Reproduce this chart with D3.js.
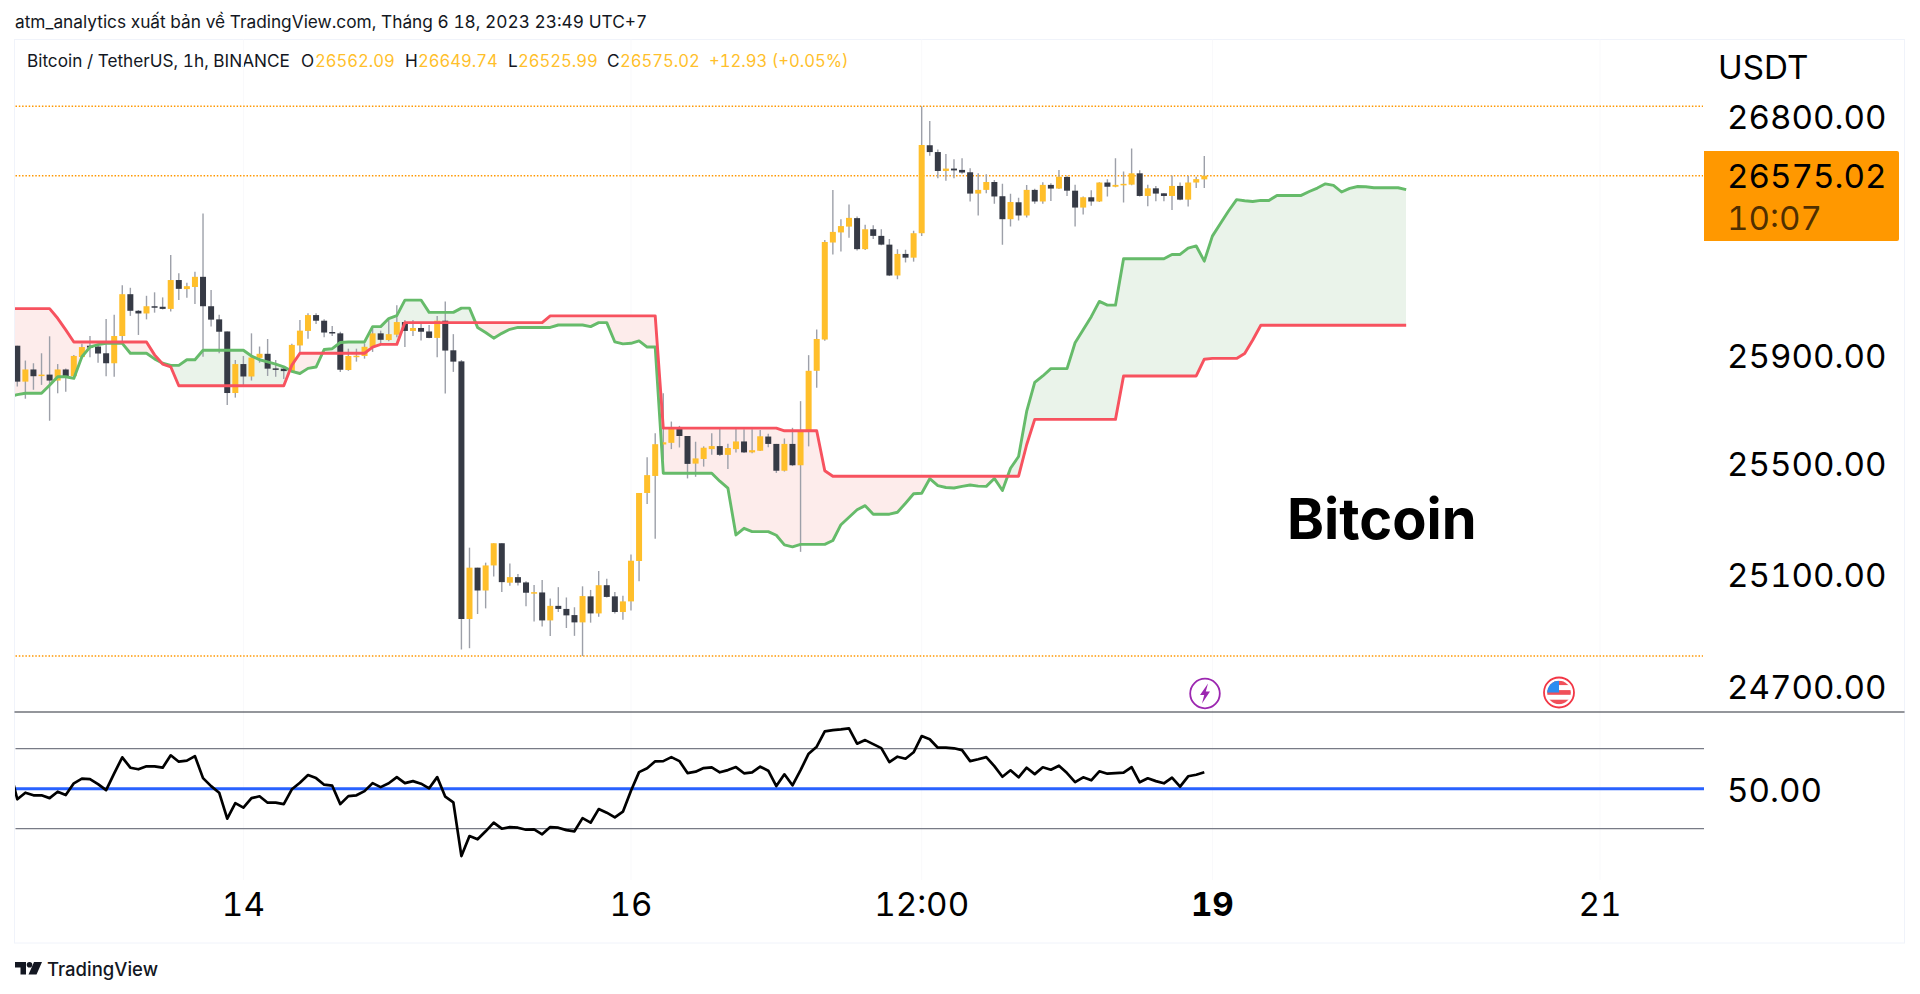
<!DOCTYPE html>
<html>
<head>
<meta charset="utf-8">
<script src="https://cdnjs.cloudflare.com/ajax/libs/d3/7.8.5/d3.min.js"></script>
<style>
  html, body { margin: 0; padding: 0; background: #fff; }
  svg { display: block; font-family: Inter, "Liberation Sans", sans-serif; font-variant-numeric: tabular-nums; }
</style>
</head>
<body>
<div id="chart"></div>
<script>
const opens = [25933,25800,25845,25821,25826,25804,25845,25820,25891,25933,25930,25905,25868,25969,26125,26063,26053,26080,26078,26070,26178,26144,26152,26190,26080,26031,25986,25758,25865,25819,25888,25903,25849,25848,25838,25934,25988,26047,26026,25984,25979,25843,25891,25895,25928,25979,25954,25974,26021,25988,25999,25986,25962,26026,25916,25875,24938,25122,25040,25130,25210,25068,25088,25069,25031,25033,24933,24985,24974,24952,24926,25019,24958,25059,25019,24963,25001,25146,25392,25454,25569,25575,25630,25600,25499,25516,25552,25563,25531,25552,25580,25540,25546,25598,25571,25473,25571,25493,25615,25840,25956,26319,26357,26379,26411,26294,26369,26344,26311,26195,26276,26262,26354,26688,26662,26590,26599,26594,26585,26504,26518,26548,26494,26407,26471,26421,26518,26474,26537,26523,26567,26515,26451,26490,26474,26546,26530,26537,26538,26581,26495,26524,26505,26495,26533,26481,26546,26558];
const highs = [25933,25878,25868,25905,25968,25865,25849,25899,25940,25969,25940,26032,26048,26158,26149,26066,26119,26132,26113,26272,26203,26168,26209,26429,26141,26048,25986,25880,25895,25979,25930,25958,25880,25855,25940,26029,26054,26054,26031,26006,25985,25922,25922,25942,25998,25989,26029,26084,26029,26029,26019,26010,26044,26098,25976,25880,25194,25122,25140,25210,25210,25137,25099,25073,25060,25078,25011,25052,25015,24980,25055,25042,25110,25082,25035,25021,25169,25392,25522,25610,25757,25653,25637,25600,25579,25562,25610,25630,25572,25630,25625,25625,25622,25608,25571,25591,25630,25728,25898,25993,26328,26518,26407,26463,26417,26386,26384,26369,26332,26294,26292,26363,26837,26781,26672,26655,26635,26638,26600,26581,26577,26556,26541,26503,26488,26537,26522,26547,26543,26594,26572,26538,26493,26517,26547,26558,26638,26588,26676,26593,26538,26533,26505,26573,26546,26571,26568,26647];
const lows = [25782,25737,25770,25788,25656,25757,25763,25817,25886,25890,25870,25820,25818,25942,26044,25973,26031,26056,26068,26060,26103,26112,26088,25892,26004,25905,25714,25741,25782,25804,25870,25821,25818,25810,25835,25908,25959,26014,25964,25969,25836,25840,25874,25885,25910,25942,25950,25964,25928,25969,25952,25961,25890,25756,25836,24829,24834,24956,24976,25090,25035,25057,25058,24984,24929,24911,24877,24963,24906,24878,24806,24925,24946,25015,24958,24935,24968,25073,25352,25226,25513,25552,25558,25445,25451,25488,25531,25527,25479,25540,25538,25537,25545,25559,25465,25470,25490,25179,25562,25777,25951,26274,26285,26337,26289,26291,26332,26309,26193,26181,26244,26247,26344,26648,26562,26553,26562,26579,26474,26421,26505,26465,26311,26379,26402,26413,26465,26465,26476,26521,26495,26379,26425,26458,26472,26493,26528,26470,26536,26493,26456,26475,26475,26442,26479,26455,26525,26525];
const closes = [25800,25845,25820,25826,25804,25845,25820,25895,25928,25926,25904,25868,25969,26125,26063,26053,26080,26077,26070,26178,26145,26155,26190,26080,26030,25985,25758,25865,25819,25889,25903,25848,25844,25839,25936,25989,26047,26026,25982,25979,25844,25895,25896,25929,25979,25955,25976,26021,25988,25999,25985,25962,26026,25915,25874,24938,25122,25040,25130,25210,25070,25088,25068,25032,25034,24933,24985,24974,24951,24926,25020,24958,25059,25017,24963,25001,25147,25392,25457,25570,25577,25630,25600,25498,25518,25557,25563,25531,25556,25580,25540,25548,25599,25571,25473,25571,25493,25617,25840,25958,26321,26359,26381,26412,26294,26369,26344,26311,26195,26276,26262,26354,26689,26662,26590,26599,26592,26584,26504,26518,26548,26493,26407,26472,26421,26518,26474,26537,26523,26568,26515,26451,26490,26474,26546,26530,26537,26541,26581,26495,26524,26504,26495,26533,26481,26546,26559,26572];

// cloud lines and rsi start one bar before the first candle (cut off by the pane edge)
const leadA = [25745,25752,25757,25757,25757,25787,25818,25818,25812,25892,25928,25937,25942,25942,25942,25905,25905,25905,25884,25868,25860,25860,25881,25881,25916,25916,25916,25916,25916,25916,25895,25881,25873,25865,25855,25838,25830,25849,25854,25919,25922,25945,25947,25947,25947,26004,26004,26034,26045,26103,26103,26103,26057,26057,26057,26057,26073,26073,26001,25982,25961,25979,25994,26001,26001,26001,26001,26001,26010,26010,26010,26010,26004,26019,26019,25947,25940,25942,25951,25928,25928,25464,25464,25464,25464,25464,25464,25464,25435,25410,25240,25264,25252,25252,25252,25239,25204,25197,25206,25206,25206,25206,25220,25277,25304,25331,25346,25315,25315,25315,25322,25355,25389,25391,25444,25419,25412,25410,25416,25421,25417,25416,25445,25401,25482,25525,25690,25797,25821,25848,25848,25848,25944,25992,26041,26098,26084,26084,26258,26258,26258,26258,26258,26258,26274,26274,26298,26306,26249,26343,26391,26438,26481,26477,26474,26478,26478,26497,26497,26497,26497,26512,26525,26541,26535,26510,26524,26531,26530,26526,26526,26526,26526,26519];
const leadB = [26071,26071,26071,26071,26071,26071,26035,25992,25947,25947,25947,25947,25947,25947,25947,25947,25947,25947,25899,25865,25855,25785,25785,25785,25785,25785,25785,25785,25785,25785,25785,25785,25785,25785,25785,25861,25905,25905,25905,25905,25905,25905,25905,25905,25905,25928,25938,25938,25938,26019,26019,26019,26019,26019,26019,26019,26019,26019,26019,26019,26019,26019,26019,26019,26019,26019,26019,26044,26044,26044,26044,26044,26044,26044,26044,26044,26044,26044,26044,26044,26044,25629,25629,25629,25629,25629,25629,25629,25629,25629,25629,25629,25629,25629,25629,25629,25619,25619,25619,25619,25619,25473,25453,25453,25453,25453,25453,25453,25453,25453,25453,25453,25453,25453,25453,25453,25453,25453,25453,25453,25453,25453,25453,25453,25453,25453,25568,25661,25661,25661,25661,25661,25661,25661,25661,25661,25661,25661,25821,25821,25821,25821,25821,25821,25821,25821,25821,25821,25883,25886,25886,25886,25886,25904,25954,26009,26009,26009,26009,26009,26009,26009,26009,26009,26009,26009,26009,26009,26009,26009,26009,26009,26009,26009,26009];
const rsi = [61.0,44.7,48.0,46.7,46.7,45.3,48.5,46.8,52.7,55.0,54.8,52.3,49.3,57.7,65.7,60.5,59.7,61.2,61.2,60.5,66.7,63.5,64.0,66.3,55.3,51.3,48.0,35.0,42.8,40.5,45.3,46.2,43.0,43.0,42.3,49.7,53.0,56.8,55.3,52.0,51.5,42.3,46.3,46.7,48.8,52.8,50.8,52.7,55.8,52.8,53.8,52.5,50.2,55.8,46.0,43.2,16.3,26.3,24.7,28.7,33.0,30.0,30.8,30.5,29.5,29.7,27.2,30.8,30.5,29.3,28.7,35.3,33.0,39.8,38.0,35.7,38.5,49.0,58.3,60.2,63.7,63.8,65.8,63.8,57.8,58.5,60.3,60.7,58.2,59.3,60.8,57.7,58.2,61.0,59.0,51.3,57.2,51.7,59.3,67.5,71.0,78.7,79.3,79.7,80.2,72.5,74.3,72.3,70.3,63.3,66.0,65.0,68.2,76.3,74.7,70.5,70.5,70.2,69.3,63.8,64.7,65.8,61.3,56.0,59.2,55.7,60.5,57.3,60.7,59.5,61.5,57.8,53.3,55.7,54.2,58.7,57.5,57.8,58.0,60.8,53.2,55.2,53.8,52.7,55.5,51.0,56.2,57.0,58.2];

const priceTicks = [26800, 25900, 25500, 25100, 24700];
const priceLevels = [26837, 26572, 24806];
const rsiBands = [70, 30];
const rsiMid = 50;
const timeTicks = [
  { i: 28, label: '14' },
  { i: 76, label: '16' },
  { i: 112, label: '12:00' },
  { i: 148, label: '19', bold: true },
  { i: 196, label: '21' },
];
const publishLine = 'atm_analytics xuất bản về TradingView.com, Tháng 6 18, 2023 23:49 UTC+7';
const legendName = 'Bitcoin / TetherUS, 1h, BINANCE';
const legendValues = [['O', '26562.09'], ['H', '26649.74'], ['L', '26525.99'], ['C', '26575.02']];
const legendChange = '+12.93 (+0.05%)';

const width = 1920;
const height = 994;
const paneLeft = 14.5;
const paneRight = 1704;
const frameRight = 1904.5;
const frameTop = 39.5;
const frameBottom = 943;
const sepY = 712;

const upColor = '#FFBF2B';
const downColor = '#363A45';
const wickColor = '#9DA0A9';
const labelColor = '#000';

const x = d3.scaleLinear().domain([0, 147]).range([17.3, 1204.3]);
const y = d3.scaleLog().domain([24700, 26800]).range([686, 116]);
const yRsi = d3.scaleLinear().domain([30, 70]).range([828.7, 748.7]);

const svg = d3.select('#chart').append('svg')
  .attr('width', width)
  .attr('height', height);

const defs = svg.append('defs');
defs.append('clipPath').attr('id', 'mainClip').append('rect')
  .attr('x', paneLeft + 0.5).attr('y', frameTop)
  .attr('width', paneRight - paneLeft).attr('height', sepY - frameTop);
defs.append('clipPath').attr('id', 'rsiClip').append('rect')
  .attr('x', paneLeft + 0.5).attr('y', sepY)
  .attr('width', paneRight - paneLeft).attr('height', 170);

// frame
svg.append('rect')
  .attr('x', paneLeft).attr('y', frameTop)
  .attr('width', frameRight - paneLeft).attr('height', frameBottom - frameTop)
  .attr('fill', '#fff').attr('stroke', '#F0F3FA');

svg.append('text')
  .attr('x', 15).attr('y', 28)
  .attr('font-size', 17.3).attr('fill', '#131722')
  .text(publishLine);

// legend row, each piece starts where it does on the source chart
const legendRow = svg.append('g').attr('font-size', 17.2).attr('transform', 'translate(0,67)');
legendRow.append('text').attr('x', 27).attr('fill', '#131722').text(legendName);
const legendKeyX = [301, 405, 508, 607];
const legendValX = [315, 418, 518, 620];
legendValues.forEach(function (d, k) {
  legendRow.append('text').attr('x', legendKeyX[k]).attr('fill', '#131722').text(d[0]);
  legendRow.append('text').attr('x', legendValX[k]).attr('fill', upColor).attr('font-size', 16.6).text(d[1]);
});
legendRow.append('text').attr('x', 709).attr('fill', upColor).attr('font-size', 16.6).text(legendChange);

// faint grid
const grid = svg.append('g').attr('stroke', '#F9F9FB');
grid.selectAll('line.v').data(timeTicks).join('line')
  .attr('class', 'v')
  .attr('x1', d => x(d.i)).attr('x2', d => x(d.i))
  .attr('y1', frameTop).attr('y2', 880);

// dotted price levels
svg.append('g').selectAll('line').data(priceLevels).join('line')
  .attr('x1', paneLeft + 1).attr('x2', paneRight - 1)
  .attr('y1', d => y(d)).attr('y2', d => y(d))
  .attr('stroke', '#FF9800').attr('stroke-width', 1.5)
  .attr('stroke-dasharray', '1.5,1.8');

const main = svg.append('g').attr('clip-path', 'url(#mainClip)');

// cloud
const cloudBars = leadA.map(function (d, k) {
  return { i: k - 1, a: d, b: leadB[k] };
});
const cloudArea = d3.area()
  .x(d => x(d.i))
  .y0(d => y(d.a))
  .y1(d => y(d.b));
defs.append('clipPath').attr('id', 'aboveB').append('path')
  .attr('d', d3.area().x(d => x(d.i)).y0(frameTop).y1(d => y(d.b))(cloudBars));
defs.append('clipPath').attr('id', 'belowB').append('path')
  .attr('d', d3.area().x(d => x(d.i)).y0(sepY).y1(d => y(d.b))(cloudBars));
main.append('g').attr('clip-path', 'url(#aboveB)').append('path')
  .attr('d', cloudArea(cloudBars)).attr('fill', '#EAF3EA');
main.append('g').attr('clip-path', 'url(#belowB)').append('path')
  .attr('d', cloudArea(cloudBars)).attr('fill', '#FDECEB');

const leadALine = d3.line().x(d => x(d.i)).y(d => y(d.a));
const leadBLine = d3.line().x(d => x(d.i)).y(d => y(d.b));

// candles
const bars = main.append('g').selectAll('g').data(opens).join('g');
bars.append('line')
  .attr('x1', (d, i) => x(i)).attr('x2', (d, i) => x(i))
  .attr('y1', (d, i) => y(highs[i])).attr('y2', (d, i) => y(lows[i]))
  .attr('stroke', wickColor).attr('stroke-width', 1.4);
bars.append('rect')
  .attr('x', (d, i) => x(i) - 3)
  .attr('width', 6)
  .attr('y', (d, i) => y(Math.max(d, closes[i])))
  .attr('height', (d, i) => Math.max(1.5, y(Math.min(d, closes[i])) - y(Math.max(d, closes[i]))))
  .attr('fill', (d, i) => closes[i] >= d ? upColor : downColor);

main.append('path')
  .attr('d', leadALine(cloudBars))
  .attr('fill', 'none').attr('stroke', '#66BB6A').attr('stroke-width', 2.9)
  .attr('stroke-linejoin', 'round');
main.append('path')
  .attr('d', leadBLine(cloudBars))
  .attr('fill', 'none').attr('stroke', '#F7525F').attr('stroke-width', 2.9)
  .attr('stroke-linejoin', 'round');

// bitcoin note
svg.append('text')
  .attr('x', 1287).attr('y', 539)
  .attr('font-size', 56).attr('font-weight', 700).attr('fill', '#000')
  .text('Bitcoin');

// event icons
const boltIcon = svg.append('g').attr('transform', 'translate(1205,693.5)');
boltIcon.append('circle').attr('r', 14.8)
  .attr('fill', '#fff').attr('stroke', '#9C27B0').attr('stroke-width', 1.8);
boltIcon.append('path')
  .attr('d', 'M3,-10 L-5,1.5 L-0.8,1.5 L-3,10 L5,-2 L0.8,-2 Z')
  .attr('fill', '#9C27B0');

const flagIcon = svg.append('g').attr('transform', 'translate(1559,692.5)');
flagIcon.append('circle').attr('r', 15)
  .attr('fill', '#fff').attr('stroke', '#F23645').attr('stroke-width', 1.8);
flagIcon.append('clipPath').attr('id', 'flagClip').append('circle').attr('r', 11.8);
const flag = flagIcon.append('g').attr('clip-path', 'url(#flagClip)');
['#F0505A', '#fff', '#F0505A', '#fff', '#F0505A'].forEach(function (c, k) {
  flag.append('rect').attr('x', -12).attr('y', -12 + k * 4.8)
    .attr('width', 24).attr('height', 4.8).attr('fill', c);
});
flag.append('rect').attr('x', -12).attr('y', -12).attr('width', 12).attr('height', 12).attr('fill', '#2D8CF0');

// pane separator
svg.append('line')
  .attr('x1', paneLeft).attr('x2', frameRight)
  .attr('y1', sepY).attr('y2', sepY)
  .attr('stroke', '#2A2E39').attr('stroke-width', 1.2);

// rsi pane
svg.append('g').selectAll('line').data(rsiBands).join('line')
  .attr('x1', paneLeft + 1).attr('x2', paneRight)
  .attr('y1', d => yRsi(d)).attr('y2', d => yRsi(d))
  .attr('stroke', '#787B86').attr('stroke-width', 1.3);
svg.append('line')
  .attr('x1', paneLeft + 1).attr('x2', paneRight)
  .attr('y1', yRsi(rsiMid)).attr('y2', yRsi(rsiMid))
  .attr('stroke', '#2962FF').attr('stroke-width', 3);
svg.append('g').attr('clip-path', 'url(#rsiClip)').append('path')
  .datum(rsi)
  .attr('d', d3.line().x((d, k) => x(k - 1)).y(d => yRsi(d)))
  .attr('fill', 'none').attr('stroke', '#000').attr('stroke-width', 2.7)
  .attr('stroke-linejoin', 'round');

// price axis
const axisX = 1727;
const axisFont = 33.2;
svg.append('text')
  .attr('x', 1718).attr('y', 67).attr('dy', '0.36em')
  .attr('font-size', axisFont).attr('fill', labelColor)
  .text('USDT');
svg.append('g').selectAll('text').data(priceTicks).join('text')
  .attr('x', axisX).attr('y', d => y(d) + 1).attr('dy', '0.36em')
  .attr('font-size', axisFont).attr('fill', labelColor)
  .text(d => d3.format('.2f')(d));
svg.append('text')
  .attr('x', axisX).attr('y', yRsi(rsiMid) + 1).attr('dy', '0.36em')
  .attr('font-size', axisFont).attr('fill', labelColor)
  .text(d3.format('.2f')(rsiMid));

// last price box
svg.append('path')
  .attr('d', 'M1704,151 H1897 a2,2 0 0 1 2,2 V239 a2,2 0 0 1 -2,2 H1704 Z')
  .attr('fill', '#FF9800');
svg.append('text')
  .attr('x', axisX).attr('y', 176).attr('dy', '0.36em')
  .attr('font-size', axisFont).attr('fill', '#000')
  .text('26575.02');
svg.append('text')
  .attr('x', axisX).attr('y', 218).attr('dy', '0.36em')
  .attr('font-size', axisFont).attr('fill', '#000').attr('fill-opacity', 0.7)
  .text('10:07');

// time axis
svg.append('g').selectAll('text').data(timeTicks).join('text')
  .attr('x', d => x(d.i)).attr('y', 904).attr('dy', '0.36em')
  .attr('text-anchor', 'middle')
  .attr('font-size', axisFont)
  .attr('font-weight', d => d.bold ? 700 : 400)
  .attr('fill', labelColor)
  .text(d => d.label);

// footer logo and name
const logo = svg.append('g').attr('transform', 'translate(15,962)').attr('fill', '#131722');
logo.append('path').attr('d', 'M0,0 H11 V12.5 H5.5 V5.5 H0 Z');
logo.append('circle').attr('cx', 14.5).attr('cy', 2.8).attr('r', 2.8);
logo.append('path').attr('d', 'M19,0 H27 L21.5,12.5 H13.5 Z');
svg.append('text')
  .attr('x', 47).attr('y', 976)
  .attr('font-size', 18.5).attr('font-weight', 500).attr('fill', '#131722')
  .text('TradingView');
</script>
</body>
</html>
